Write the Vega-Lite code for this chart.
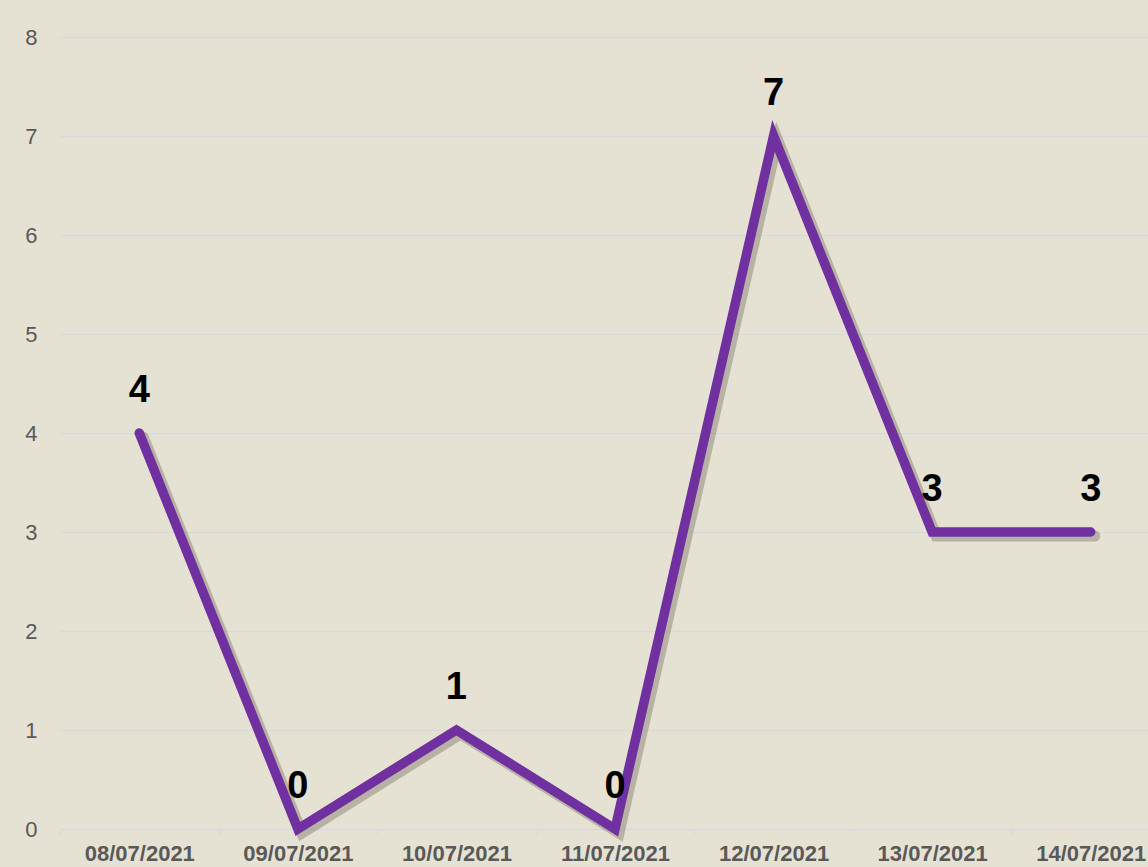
{
  "$schema": "https://vega.github.io/schema/vega-lite/v6.json",
  "autosize": "none",
  "padding": {"left": 60, "top": 37, "right": 0, "bottom": 38},
  "width": 1110,
  "height": 792,
  "background": "#E6E2D3",
  "config": {"view": {"stroke": null}, "font": "Liberation Sans"},
  "data": {"values": [
    {"date": "08/07/2021", "value": 4},
    {"date": "09/07/2021", "value": 0},
    {"date": "10/07/2021", "value": 1},
    {"date": "11/07/2021", "value": 0},
    {"date": "12/07/2021", "value": 7},
    {"date": "13/07/2021", "value": 3},
    {"date": "14/07/2021", "value": 3}
  ]},
  "encoding": {
    "x": {"field": "date", "type": "nominal", "sort": null, "bandPosition": 0.5,
      "scale": {"type": "band", "paddingInner": 0, "paddingOuter": 0},
      "axis": {"title": null, "labelAngle": 0, "labelFontSize": 22, "labelFontWeight": "bold", "labelColor": "#595959",
        "labelPadding": 9, "tickBand": "extent", "tickColor": "#D9D9D9", "tickSize": 5, "tickWidth": 1.5, "domainColor": "#D9D9D9", "domainWidth": 1.5, "grid": false}},
    "y": {"field": "value", "type": "quantitative",
      "scale": {"domain": [0, 8], "nice": false},
      "axis": {"title": null, "values": [0,1,2,3,4,5,6,7,8], "labelFontSize": 22, "labelColor": "#595959", "labelPadding": 23,
        "domain": false, "ticks": false, "gridColor": "#D9D9D9", "gridWidth": 1.5}}
  },
  "layer": [
    {"mark": {"type": "line", "color": "#5E5A4A", "opacity": 0.35, "strokeWidth": 11, "strokeCap": "round", "strokeJoin": "miter", "xOffset": 4, "yOffset": 4}},
    {"mark": {"type": "line", "color": "#7030A0", "strokeWidth": 9.5, "strokeCap": "round", "strokeJoin": "miter"}},
    {"mark": {"type": "text", "fontSize": 38, "fontWeight": "bold", "color": "#000000", "dy": -42},
      "encoding": {"text": {"field": "value", "type": "quantitative"}}}
  ]
}
